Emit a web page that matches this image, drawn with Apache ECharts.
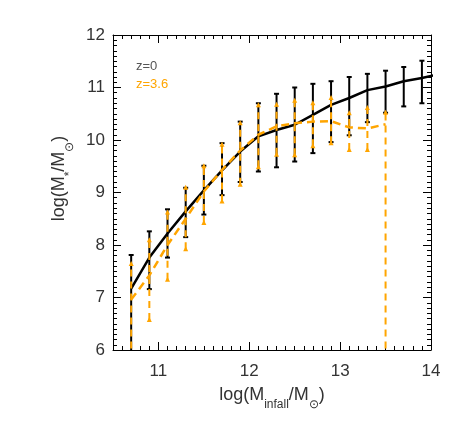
<!DOCTYPE html>
<html>
<head>
<meta charset="utf-8">
<script src="https://cdn.jsdelivr.net/npm/echarts@6/dist/echarts.min.js"></script>
<style>
    html, body { margin: 0; padding: 0; background: #fff; }
    #chart { width: 463px; height: 422px; }
</style>
</head>
<body>
<div id="chart"></div>
<script>
// mass bins (log M_infall)
const massBins = [10.7, 10.9, 11.1, 11.3, 11.5, 11.7, 11.9, 12.1, 12.3, 12.5, 12.7, 12.9, 13.1, 13.3, 13.5, 13.7, 13.9];
// z=0 runs past the right edge
const z0LineMass = [10.7, 10.9, 11.1, 11.3, 11.5, 11.7, 11.9, 12.1, 12.3, 12.5, 12.7, 12.9, 13.1, 13.3, 13.5, 13.7, 13.9, 14.1];
const z0Median = [7.17, 7.76, 8.22, 8.64, 9.04, 9.42, 9.78, 10.07, 10.19, 10.29, 10.48, 10.67, 10.80, 10.95, 11.02, 11.12, 11.18, 11.26];
const z0Low = [5.8, 7.16, 7.76, 8.15, 8.58, 8.95, 9.20, 9.40, 9.48, 9.59, 9.75, 9.96, 10.09, 10.34, 10.52, 10.64, 10.70];
const z0High = [7.81, 8.26, 8.68, 9.09, 9.51, 9.94, 10.35, 10.70, 10.88, 11.00, 11.07, 11.12, 11.20, 11.26, 11.32, 11.39, 11.51];

// z=3.6 stops at 13.5
const z36Mass = [10.7, 10.9, 11.1, 11.3, 11.5, 11.7, 11.9, 12.1, 12.3, 12.5, 12.7, 12.9, 13.1, 13.3, 13.5];
const z36Median = [6.96, 7.42, 8.00, 8.50, 9.02, 9.43, 9.80, 10.10, 10.26, 10.32, 10.35, 10.36, 10.24, 10.22, 10.30];
const z36Low = [5.8, 6.57, 7.34, 7.92, 8.42, 8.83, 9.15, 9.48, 9.72, 9.71, 9.88, 9.94, 9.81, 9.81, 5.8];
const z36High = [7.64, 8.09, 8.62, 9.09, 9.50, 9.91, 10.32, 10.66, 10.67, 10.75, 10.70, 10.80, 10.51, 10.61, 10.52];

const xMajorTicks = [11, 12, 13, 14];
const legendLabels = ['z=0', 'z=3.6'];

const FONT = 'Liberation Sans';
const TEXT = '#333';
const ORANGE = '#FFA500';

const nameRich = {
    b: { fontSize: 18, fontFamily: FONT, color: TEXT, verticalAlign: 'top', lineHeight: 18 },
    s: { fontSize: 12, fontFamily: FONT, color: TEXT, verticalAlign: 'bottom', lineHeight: 25 }
};

function minorX(pos) {
    return {
        type: 'value', min: 10.5, max: 14, interval: 0.1, position: pos,
        axisLine: { show: true, onZero: false, lineStyle: { color: '#000', width: 1 } },
        axisTick: { show: true, inside: true, length: 4, lineStyle: { color: '#000' } },
        axisLabel: { show: false },
        splitLine: { show: false }
    };
}

function majorX(pos, withLabels) {
    const ax = {
        type: 'value', min: 10.5, max: 14, position: pos,
        axisLine: { show: false, onZero: false },
        axisTick: { show: true, inside: true, length: 8, customValues: xMajorTicks, lineStyle: { color: '#000' } },
        axisLabel: { show: withLabels, customValues: xMajorTicks, fontSize: 17, fontFamily: FONT, color: TEXT, margin: 13 },
        splitLine: { show: false }
    };
    if (withLabels) {
        ax.name = '{b|log(M}{s|infall}{b|/M}{s|⊙}{b|)}';
        ax.nameLocation = 'middle';
        ax.nameGap = 36;
        ax.nameTextStyle = { rich: nameRich };
    }
    return ax;
}

function yAxisAt(pos, withLabels) {
    const ax = {
        type: 'value', min: 6, max: 12, interval: 1, position: pos,
        axisLine: { show: true, onZero: false, lineStyle: { color: '#000', width: 1 } },
        axisTick: { show: true, inside: true, length: 8, lineStyle: { color: '#000' } },
        minorTick: { show: true, splitNumber: 10, length: 4, lineStyle: { color: '#000' } },
        axisLabel: { show: withLabels, fontSize: 17, fontFamily: FONT, color: TEXT, margin: 8 },
        splitLine: { show: false }
    };
    if (withLabels) {
        ax.name = '{b|log(M}{s|*}{b|/M}{s|⊙}{b|)}';
        ax.nameLocation = 'middle';
        ax.nameGap = 32;
        ax.nameTextStyle = { rich: nameRich, padding: [0, 0, 0, 28] };
    }
    return ax;
}

function errorBars(color, dashed) {
    return function (params, api) {
        const x = api.value(0);
        const lo = api.coord([x, api.value(1)]);
        const hi = api.coord([x, api.value(2)]);
        const children = [{
            type: 'line',
            shape: { x1: lo[0], y1: lo[1], x2: hi[0], y2: hi[1] },
            style: { stroke: color, lineWidth: 2, lineDash: dashed ? [7, 5] : null }
        }];
        [lo, hi].forEach(p => {
            if (dashed) {
                children.push({
                    type: 'polygon',
                    shape: { points: [[p[0] - 2.5, p[1] + 2], [p[0] + 2.5, p[1] + 2], [p[0], p[1] - 3]] },
                    style: { fill: color }
                });
            } else {
                children.push({
                    type: 'line',
                    shape: { x1: p[0] - 2.5, y1: p[1], x2: p[0] + 2.5, y2: p[1] },
                    style: { stroke: color, lineWidth: 2 }
                });
            }
        });
        return { type: 'group', children: children };
    };
}

const chart = echarts.init(document.getElementById('chart'));
chart.setOption({
    animation: false,
    grid: { left: 113, right: 32, top: 35, bottom: 72 },
    xAxis: [minorX('bottom'), majorX('bottom', true), minorX('top'), majorX('top', false)],
    yAxis: [yAxisAt('left', true), yAxisAt('right', false)],
    graphic: [
        { type: 'text', left: 136, top: 60, style: { text: legendLabels[0], fill: '#555', font: '13px "Liberation Sans"' } },
        { type: 'text', left: 136, top: 78, style: { text: legendLabels[1], fill: ORANGE, font: '13px "Liberation Sans"' } }
    ],
    series: [
        {
            type: 'line',
            data: z0LineMass.map((m, i) => [m, z0Median[i]]),
            symbol: 'none',
            clip: true,
            lineStyle: { color: '#000', width: 2.5 },
            z: 2
        },
        {
            type: 'custom',
            data: massBins.map((m, i) => [m, z0Low[i], z0High[i]]),
            renderItem: errorBars('#000', false),
            clip: true,
            z: 3
        },
        {
            type: 'line',
            data: z36Mass.map((m, i) => [m, z36Median[i]]),
            symbol: 'none',
            clip: true,
            lineStyle: { color: ORANGE, width: 2.5, type: [8, 5] },
            z: 4
        },
        {
            type: 'custom',
            data: z36Mass.map((m, i) => [m, z36Low[i], z36High[i]]),
            renderItem: errorBars(ORANGE, true),
            clip: true,
            z: 5
        }
    ]
});
</script>
</body>
</html>
